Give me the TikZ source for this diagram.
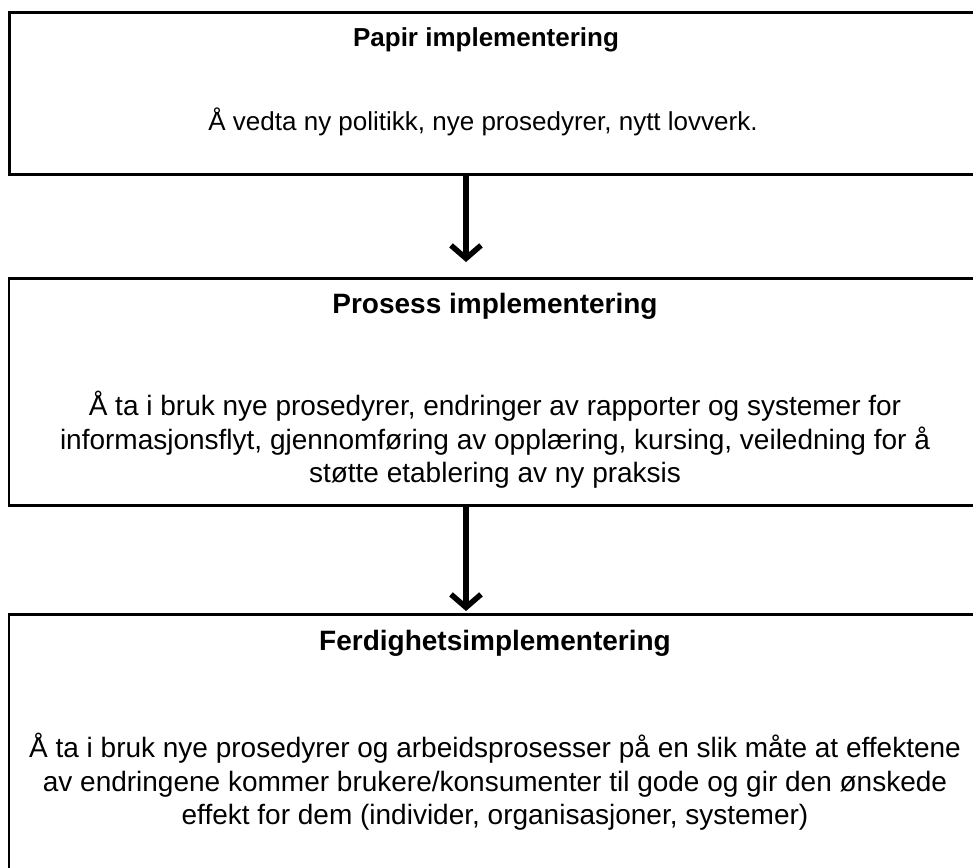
\documentclass[tikz,border=0pt]{standalone}
\usepackage{fontspec}
\setmainfont{Liberation Sans}
\usetikzlibrary{arrows.meta}
\begin{document}
\begin{tikzpicture}[x=1pt,y=-1pt,
  box/.style={draw=black, line width=2.8pt, inner sep=0pt, anchor=north west},
  ttlA/.style={font=\fontsize{26}{33}\selectfont\bfseries, inner sep=0pt, anchor=base},
  ttlB/.style={font=\fontsize{28}{34}\selectfont\bfseries, inner sep=0pt, anchor=base},
  bodyA/.style={font=\fontsize{26}{33}\selectfont, align=center, inner sep=0pt, anchor=base},
  bodyB/.style={font=\fontsize{28}{33.8}\selectfont, align=center, inner sep=0pt, anchor=north},
  arr/.style={line width=5.5pt, -{Straight Barb[length=13pt,width=30pt,line width=5.5pt]}}
]
\useasboundingbox (0,0) rectangle (973,867);
\clip (0,0) rectangle (973,867);
\node[box, line width=3pt, minimum width=990pt, minimum height=162pt] (b1) at (7.5,11) {};
\node[box, minimum width=990pt, minimum height=227pt] (b2) at (7.5,277) {};
\node[box, minimum width=990pt, minimum height=300pt] (b3) at (7.5,613) {};
\node[ttlA] (t1) at (486,47) {Papir implementering};
\node[bodyA] (x1) at (483,130) {Å vedta ny politikk, nye prosedyrer, nytt lovverk.};
\node[ttlB] (t2) at (495,313) {Prosess implementering};
\node[bodyB] (x2) at (495,385) {\rule{0pt}{30pt}Å ta i bruk nye prosedyrer, endringer av rapporter og systemer for\\informasjonsflyt, gjennomføring av opplæring, kursing, veiledning for å\\støtte etablering av ny praksis};
\node[ttlB] (t3) at (495,650) {Ferdighetsimplementering};
\node[bodyB] (x3) at (495,727) {\rule{0pt}{30pt}Å ta i bruk nye prosedyrer og arbeidsprosesser på en slik måte at effektene\\av endringene kommer brukere/konsumenter til gode og gir den ønskede\\effekt for dem (individer, organisasjoner, systemer)};
\coordinate (e1) at (466,262);
\coordinate (e2) at (466,611);
\draw[arr] (b1.south -| e1) -- (e1);
\draw[arr] (b2.south -| e2) -- (e2);
\end{tikzpicture}
\end{document}
